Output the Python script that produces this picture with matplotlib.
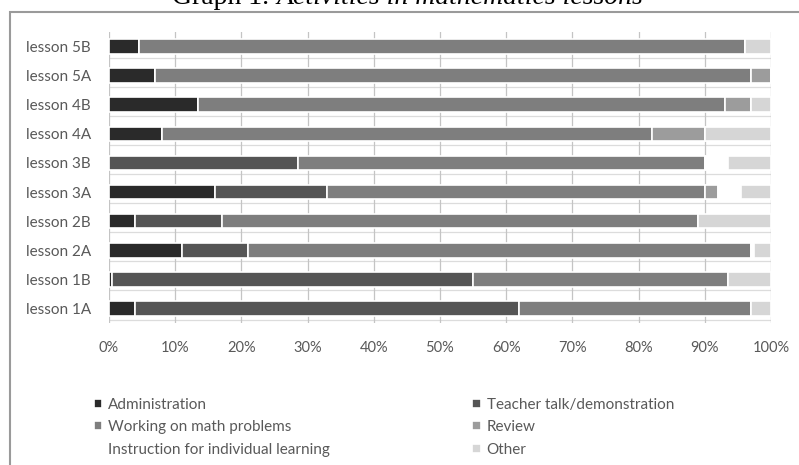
import matplotlib
matplotlib.use('Agg')
import numpy as np
from matplotlib import pyplot as plt
from matplotlib.patches import Rectangle

plt.rcParams['font.family'] = ['Lato', 'DejaVu Sans']

lessons = ['lesson 5B', 'lesson 5A', 'lesson 4B', 'lesson 4A', 'lesson 3B',
           'lesson 3A', 'lesson 2B', 'lesson 2A', 'lesson 1B', 'lesson 1A']

# percentages per lesson, same order as lessons
administration = [4.5, 7, 13.5, 8, 0, 16, 4, 11, 0.5, 4]
teacher_talk = [0, 0, 0, 0, 28.5, 17, 13, 10, 54.5, 58]
working = [91.5, 90, 79.5, 74, 61.5, 57, 72, 76, 38.5, 35]
review = [0, 3, 4, 8, 0, 2, 0, 0, 0, 0]
instruction = [0, 0, 0, 0, 3.5, 3.5, 0, 0.5, 0, 0]
other = [4, 0, 3, 10, 6.5, 4.5, 11, 2.5, 6.5, 3]

series = [
    ('Administration', administration, '#2a2a2a'),
    ('Teacher talk/demonstration', teacher_talk, '#555555'),
    ('Working on math problems', working, '#7e7e7e'),
    ('Review', review, '#9c9c9c'),
    ('Instruction for individual learning', instruction, '#ffffff'),
    ('Other', other, '#d6d6d6'),
]

fig = plt.figure(figsize=(7.99, 4.65), dpi=100)
ax = fig.add_axes([109 / 799, 1 - 323 / 465, 662 / 799, 291 / 465])

y = np.arange(len(lessons))[::-1]
left = np.zeros(len(lessons))
handles = {}
for name, vals, col in series:
    vals = np.array(vals)
    b = ax.barh(y, vals, left=left, height=0.5, color=col,
                edgecolor='white', linewidth=1.2, label=name, zorder=3)
    handles[name] = b
    left += vals

ax.set_xlim(0, 100)
ax.set_ylim(-0.5, 9.5)
ax.set_xticks(np.arange(0, 101, 10))
ax.set_xticklabels([f'{v}%' for v in range(0, 101, 10)], color='#595959', fontsize=10.5)
ax.set_yticks(y)
ax.set_yticklabels(lessons, color='#595959', fontsize=11)
ax.tick_params(axis='x', length=0, pad=13)
ax.tick_params(axis='y', length=0, pad=13)
ax.xaxis.grid(True, color='#c4c4c4', linewidth=0.9, zorder=0)
for yy in np.arange(-0.5, 10, 1):
    ax.axhline(yy + 0.12, color='#dcdcdc', linewidth=0.9, zorder=1)
for s in ax.spines.values():
    s.set_visible(False)

order = ['Administration', 'Working on math problems', 'Instruction for individual learning',
         'Teacher talk/demonstration', 'Review', 'Other']
leg = fig.legend([handles[n] for n in order], order, ncol=2,
                 loc='upper left', bbox_to_anchor=(80 / 799, 1 - 384 / 465),
                 frameon=False, fontsize=11, handlelength=0.55, handleheight=0.55,
                 handletextpad=0.4, columnspacing=9.3, labelspacing=0.55)
for t in leg.get_texts():
    t.set_color('#595959')

# outer frame
fig.patches.append(Rectangle((10 / 799, -0.05), 1.0, 1 - 12 / 465 + 0.05,
                             transform=fig.transFigure, fill=False,
                             edgecolor='#9a9a9a', linewidth=1.5))

t1 = fig.text(172 / 799, 1 - 4 / 465, 'Graph 1. ', fontfamily='Liberation Serif',
              fontsize=20, va='baseline', ha='left')
fig.canvas.draw()
bb = t1.get_window_extent()
fig.text(bb.x1 / fig.bbox.width, 1 - 4 / 465, 'Activities in mathematics lessons',
         fontfamily='Liberation Serif', fontstyle='italic',
         fontsize=20, va='baseline', ha='left')

fig.savefig('out.png', dpi=100)
